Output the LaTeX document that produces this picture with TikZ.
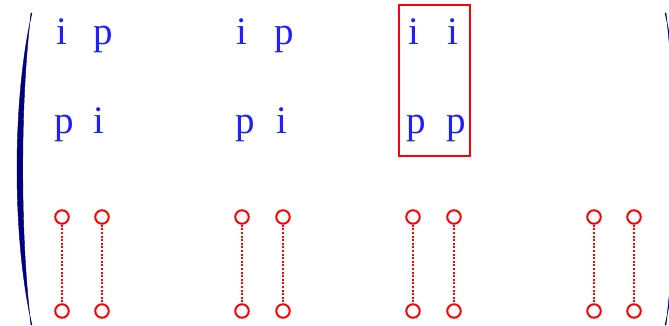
\documentclass[tikz,border=0pt]{standalone}
\usepackage{fontspec}
\setmainfont{Liberation Serif}
\begin{document}
\begin{tikzpicture}[x=1pt,y=-1pt,
  letter/.style={text=blue!88!white, font=\fontsize{39}{44}\selectfont, inner sep=0pt, anchor=base},
  knot/.style={circle, draw=red, line width=2pt, minimum size=13.5pt, inner sep=0pt, fill=white},
  link/.style={draw=red, line width=2pt, dash pattern=on 2pt off 1.6pt},
  parenstyle/.style={fill={rgb,255:red,0;green,0;blue,128}, draw={rgb,255:red,0;green,0;blue,128}, line width=0.4pt}]
\useasboundingbox (0,0) rectangle (669,326);
\clip (0,0) rectangle (669,326);
% left parenthesis
\path[parenstyle] (32,13) .. controls (12,100) and (12,238) .. (32,325)
  -- (31,325) .. controls (20,238) and (20,100) .. (31,13) -- cycle;
% right parenthesis
\path[parenstyle] (665,13) .. controls (685,100) and (685,238) .. (665,325)
  -- (666,325) .. controls (677,238) and (677,100) .. (666,13) -- cycle;
% letters
\node[letter] (a1) at (62,45) {i};
\node[letter] (b1) at (103,45) {p};
\node[letter] (c1) at (64,133) {p};
\node[letter] (d1) at (99,133) {i};
\node[letter] (a2) at (242,45) {i};
\node[letter] (b2) at (284,45) {p};
\node[letter] (c2) at (245,133) {p};
\node[letter] (d2) at (282,133) {i};
\node[letter] (a3) at (414,45) {i};
\node[letter] (b3) at (453,45) {i};
\node[letter] (c3) at (416,133) {p};
\node[letter] (d3) at (456,133) {p};
% red box
\node[draw=red, line width=2pt, inner sep=0pt, minimum width=71pt, minimum height=150pt] (box) at (434.5,80.5) {};
% knots and links
\foreach \i/\x in {1/62,2/102,3/242,4/283,5/413,6/454,7/594,8/634}{
  \node[knot] (t\i) at (\x,217) {};
  \node[knot] (u\i) at (\x,311) {};
  \draw[link] (t\i) -- (u\i);
}
\end{tikzpicture}
\end{document}
